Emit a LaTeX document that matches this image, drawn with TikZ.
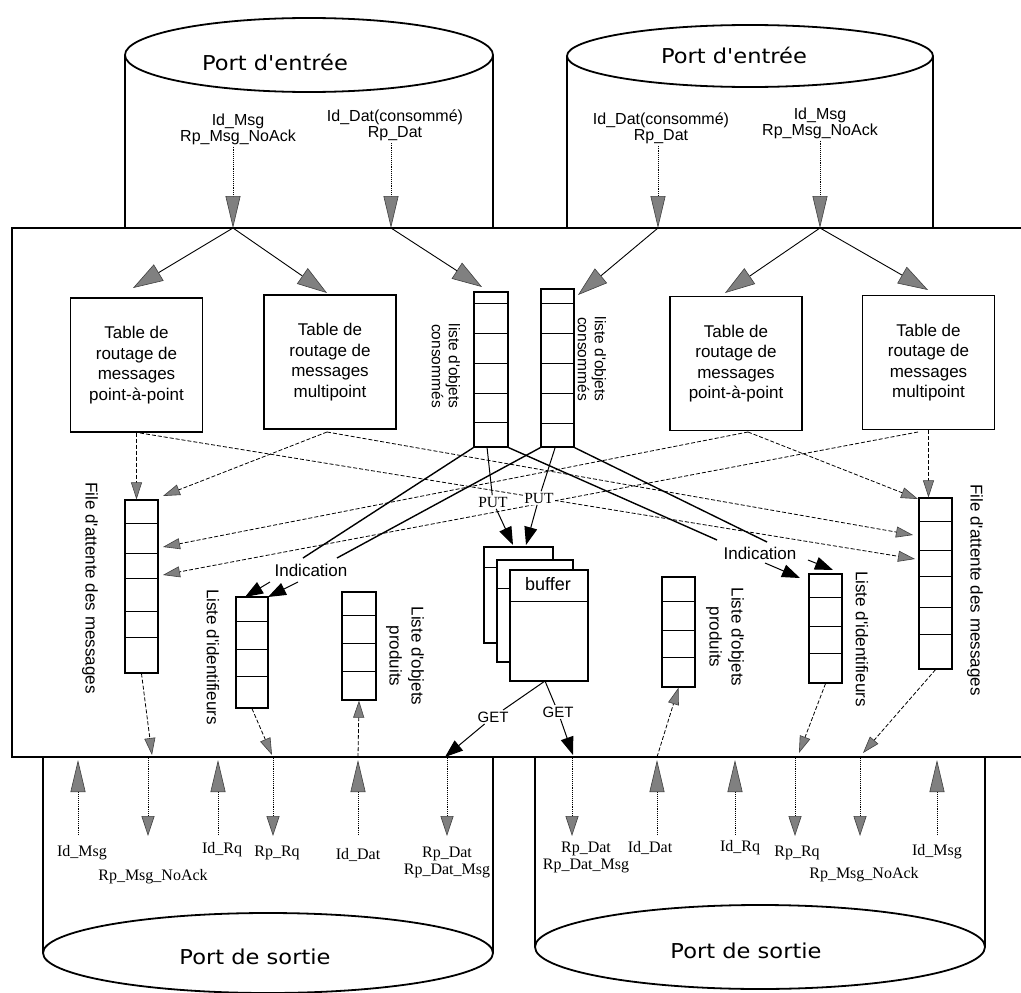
\documentclass[tikz,border=0pt]{standalone}
\usepackage{fontspec}
\setmainfont{Liberation Sans}
\newfontfamily\sansf{Liberation Sans}
\newfontfamily\seriff{Liberation Serif}
\newfontfamily\portf{DejaVu Sans}
\usetikzlibrary{arrows.meta}
\newcommand\usc{\char"5F\relax}

\tikzset{
  hatchbig/.tip={Triangle[length=32pt,width=15pt,color=black!75,fill=black!50,line width=0.6pt]},
  hatchmid/.tip={Triangle[length=30pt,width=19pt,color=black!75,fill=black!50,line width=0.6pt]},
  hatchshort/.tip={Triangle[length=20pt,width=13pt,color=black!75,fill=black!50,line width=0.6pt]},
  hatchsmall/.tip={Triangle[length=17pt,width=11pt,color=black!75,fill=black!50,line width=0.6pt]},
  solidtip/.tip={Triangle[length=18pt,width=13pt,color=black]},
}

\begin{document}
\begin{tikzpicture}[x=1pt,y=-1pt,
  cyl/.style={line width=1.8pt},
  frame/.style={line width=2.6pt},
  port/.style={font=\portf\fontsize{20.5}{24}\selectfont, inner sep=0pt},
  toplbl/.style={font=\sansf\fontsize{16}{16}\selectfont, align=center, inner sep=2pt},
  botlbl/.style={font=\seriff\fontsize{16}{17}\selectfont, align=center, inner sep=1pt},
  routebox/.style={draw, fill=white, line width=1.3pt, minimum width=132pt, minimum height=134pt,
    inner sep=0pt, align=center, font=\sansf\fontsize{17}{20.5}\selectfont},
  queue/.style={draw, fill=white, line width=1.3pt, inner sep=0pt, minimum width=33pt},
  cell/.style={line width=1pt},
  vlbl/.style={rotate=-90, align=center, font=\sansf\fontsize{17}{22}\selectfont, inner sep=0pt},
  qlbl/.style={rotate=-90, align=center, font=\sansf\fontsize{15.5}{17}\selectfont, inner sep=0pt},
  bufbox/.style={draw, fill=white, line width=1.2pt, inner sep=0pt},
  feed/.style={line width=0.9pt, densely dotted, -hatchbig},
  dist/.style={line width=0.9pt, -hatchmid},
  route/.style={line width=0.8pt, dash pattern=on 4pt off 2pt, -hatchsmall},
  upfeed/.style={line width=0.9pt, densely dotted, -hatchbig},
  downfeed/.style={line width=0.9pt, densely dotted, -hatchshort},
  ind/.style={line width=1.4pt},
  op/.style={line width=1pt},
  blk/.style={line width=1pt, -solidtip},
  oplbl/.style={fill=white, inner sep=1.5pt},
]
\useasboundingbox (0,0) rectangle (1021,993);
\clip (0,0) rectangle (1021,993);

% ---------------- input ports ----------------
\draw[cyl] (125,55) -- (125,228) (493,55) -- (493,228);
\draw[cyl,fill=white] (309,55) ellipse [x radius=184, y radius=37];
\node[port] (inL) at (275,62) {\scalebox{1.1}[1]{Port d'entrée}};
\draw[cyl] (567,56) -- (567,228) (933,56) -- (933,228);
\draw[cyl,fill=white] (750,56) ellipse [x radius=183, y radius=31];
\node[port] (inR) at (734,55) {\scalebox{1.1}[1]{Port d'entrée}};

% ---------------- output ports ----------------
\draw[cyl] (43,757) -- (43,953) (493,757) -- (493,953);
\draw[cyl,fill=white] (268,953) ellipse [x radius=225, y radius=40];
\node[port] (outL) at (255,957) {\scalebox{1.1}[1]{Port de sortie}};
\draw[cyl] (535,757) -- (535,947) (985,757) -- (985,947);
\draw[cyl,fill=white] (760,947) ellipse [x radius=225, y radius=42];
\node[port] (outR) at (746,951) {\scalebox{1.1}[1]{Port de sortie}};

% ---------------- module frame ----------------
\draw[frame] (1040,228) -- (12,228) -- (12,757) -- (1040,757);

% ---------------- incoming primitives ----------------
\node[toplbl] (lmL) at (238,129) {Id\usc Msg\\Rp\usc Msg\usc NoAck};
\node[toplbl] (ldL) at (395,125) {Id\usc Dat(consommé)\\Rp\usc Dat};
\node[toplbl] (ldR) at (661,128) {Id\usc Dat(consommé)\\Rp\usc Dat};
\node[toplbl] (lmR) at (820,123) {Id\usc Msg\\Rp\usc Msg\usc NoAck};

\coordinate (sL1) at (233,228);
\coordinate (sL2) at (391,228);
\coordinate (sR1) at (658,228);
\coordinate (sR2) at (820,228);

\draw[feed] (sL1 |- lmL.south) -- (sL1);
\draw[feed] (sL2 |- ldL.south) -- (sL2);
\draw[feed] (sR1 |- ldR.south) -- (sR1);
\draw[feed] (sR2 |- lmR.south) -- (sR2);

% ---------------- routing tables ----------------
\node[routebox] (tp1) at (136.5,365) {Table de\\routage de\\messages\\point-à-point};
\node[routebox] (tm1) at (330,362) {Table de\\routage de\\messages\\multipoint};
\node[routebox] (tp2) at (736,363.5) {Table de\\routage de\\messages\\point-à-point};
\node[routebox] (tm2) at (928.5,362.5) {Table de\\routage de\\messages\\multipoint};

% ---------------- consumed-object lists ----------------
\node[queue, minimum width=34pt, minimum height=155pt] (q1) at (491,369.5) {};
\foreach \y in {303,333,363,393,422} \draw[cell] (474,\y) -- (508,\y);
\node[queue, minimum height=158pt] (q2) at (557.5,368) {};
\foreach \y in {303,333,363,393,423} \draw[cell] (541,\y) -- (574,\y);
\node[qlbl] (q1l) at (446,366) {liste d'objets\\consommés};
\node[qlbl] (q2l) at (592,359) {liste d'objets\\consommés};

% ---------------- message queues ----------------
\node[queue, minimum height=173pt] (fq1) at (141.5,586.5) {};
\foreach \y in {523,553,578,611,637} \draw[cell] (125,\y) -- (158,\y);
\node[queue, minimum height=171pt] (fq2) at (935.5,583.5) {};
\foreach \y in {521,550,576,607,634} \draw[cell] (919,\y) -- (952,\y);
\node[vlbl] (fq1l) at (90,588) {File d'attente des messages};
\node[vlbl] (fq2l) at (975,590) {File d'attente des messages};

% ---------------- identifier lists ----------------
\node[queue, minimum width=32pt, minimum height=111pt] (li1) at (252,652.5) {};
\foreach \y in {621,649,676} \draw[cell] (236,\y) -- (268,\y);
\node[queue, minimum height=109pt] (li2) at (825.5,628.5) {};
\foreach \y in {597,626,653} \draw[cell] (809,\y) -- (842,\y);
\node[vlbl] (li1l) at (213,657) {Liste d'identifieurs};
\node[vlbl] (li2l) at (862,639) {Liste d'identifieurs};

% ---------------- produced-object lists ----------------
\node[queue, minimum width=34pt, minimum height=108pt] (lp1) at (359,646) {};
\foreach \y in {615,643,671} \draw[cell] (342,\y) -- (376,\y);
\node[queue, minimum height=110pt] (lp2) at (678.5,632) {};
\foreach \y in {601,630,657} \draw[cell] (662,\y) -- (695,\y);
\node[vlbl] (lp1l) at (405,656) {Liste d'objets\\produits};
\node[vlbl] (lp2l) at (725,637) {Liste d'objets\\produits};

% ---------------- distribution from the input ports ----------------
\coordinate (tTP1) at (133,288);
\coordinate (tTM1) at (327,293);
\coordinate (tQ1) at (482,287);
\coordinate (tQ2) at (578,295);
\coordinate (tTP2) at (725,293);
\coordinate (tTM2) at (928,290);
\draw[dist] (sL1) -- (tTP1);
\draw[dist] (sL1) -- (tTM1);
\draw[dist] (sL2) -- (tQ1);
\draw[dist] (sR1) -- (tQ2);
\draw[dist] (sR2) -- (tTP2);
\draw[dist] (sR2) -- (tTM2);

% ---------------- routing to the message queues ----------------
\coordinate (oTP1) at (140,433);
\coordinate (oTM1) at (327,432);
\coordinate (oTP2) at (748,432);
\coordinate (oTM2) at (918,432);
\coordinate (f1a) at (163,496);
\coordinate (f1b) at (163,547);
\coordinate (f1c) at (163,575);
\coordinate (f2a) at (918,499);
\coordinate (f2b) at (913,535);
\coordinate (f2c) at (915,559);
\draw[route] (tp1.south) -- (tp1.south |- fq1.north);
\draw[route] (oTP1) -- (f2c);
\draw[route] (oTM1) -- (f1a);
\draw[route] (oTM1) -- (f2b);
\draw[route] (oTP2) -- (f2a);
\draw[route] (oTP2) -- (f1b);
\draw[route] (oTM2) -- (f1c);
\draw[route] (tm2.south) -- (tm2.south |- fq2.north);

% ---------------- indications ----------------
\coordinate (iL1) at (303,558);
\coordinate (iL2) at (337,558);
\coordinate (iR1) at (717,540);
\coordinate (iR2) at (767,542);
\draw[ind] (q1.south west) -- (iL1);
\draw[ind] (q2.south west) -- (iL2);
\draw[ind] (q1.south east) -- (iR1);
\draw[ind] (q2.south east) -- (iR2);
\node[oplbl, font=\sansf\fontsize{17}{20}\selectfont] (indL) at (311,570) {Indication};
\node[oplbl, font=\sansf\fontsize{17}{20}\selectfont] (indR) at (760,553) {Indication};
\coordinate (aL1) at (270,582);
\coordinate (aL2) at (298,582);
\coordinate (aR1) at (765,563);
\coordinate (aR2) at (808,560);
\coordinate (tL1) at (245,597);
\coordinate (tL2) at (268,597);
\coordinate (tR1) at (800,578);
\coordinate (tR2) at (833,570);
\draw[blk] (aL1) -- (tL1);
\draw[blk] (aL2) -- (tL2);
\draw[blk] (aR1) -- (tR1);
\draw[blk] (aR2) -- (tR2);

% ---------------- buffer ----------------
\node[bufbox, minimum width=69pt, minimum height=96pt] (bufA) at (518.5,595) {};
\draw[cell] (484,567) -- (553,567);
\node[bufbox, minimum width=76pt, minimum height=102pt] (bufB) at (535,611) {};
\draw[cell] (497,588) -- (573,588);
\node[bufbox, minimum width=78pt, minimum height=111pt] (bufC) at (549,625.5) {};
\draw[cell] (510,601) -- (588,601);
\node[font=\sansf\fontsize{18}{20}\selectfont, inner sep=0pt] (bufT) at (548,584) {buffer};

% PUT into the buffer
\node[oplbl, font=\seriff\fontsize{15.5}{17}\selectfont] (put1) at (493,502) {PUT};
\node[oplbl, font=\seriff\fontsize{15.5}{17}\selectfont] (put2) at (539,498) {PUT};
\coordinate (p1s) at (487,447);
\coordinate (p2s) at (555,448);
\coordinate (p1t) at (513,545);
\coordinate (p2t) at (526,545);
\draw[op] (p1s) -- (put1);
\draw[blk] (put1) -- (p1t);
\draw[op] (p2s) -- (put2);
\draw[blk] (put2) -- (p2t);

% GET from the buffer
\node[oplbl, font=\sansf\fontsize{15}{17}\selectfont] (get1) at (493,717) {GET};
\node[oplbl, font=\sansf\fontsize{15}{17}\selectfont] (get2) at (558,712) {GET};
\coordinate (g0) at (545,681);
\coordinate (g1t) at (445,757);
\coordinate (g2t) at (573,755);
\draw[op] (g0) -- (get1);
\draw[blk] (get1) -- (g1t);
\draw[op] (g0) -- (get2);
\draw[blk] (get2) -- (g2t);

% ---------------- towards / from the frame bottom ----------------
\coordinate (e1) at (152,755);
\coordinate (e2) at (272,755);
\coordinate (e3) at (358,757);
\coordinate (e4) at (863,753);
\coordinate (e5) at (799,753);
\coordinate (e6) at (657,757);
\draw[route] (fq1.south) -- (e1);
\draw[route] (li1.south) -- (e2);
\draw[route] (e3) -- (lp1.south);
\draw[route] (fq2.south) -- (e4);
\draw[route] (li2.south) -- (e5);
\draw[route] (e6) -- (lp2.south);

% ---------------- outgoing / incoming primitives at the bottom ----------------
\foreach \n/\x in {1/78,2/218,3/358,4/657,5/735,6/937} {
  \coordinate (ui\n) at (\x,835);
  \coordinate (uo\n) at (\x,760);
  \draw[upfeed] (ui\n) -- (uo\n);
}
\foreach \n/\x in {1/148,2/273,3/447,4/572,5/795,6/860} {
  \coordinate (di\n) at (\x,758);
  \coordinate (do\n) at (\x,836);
  \draw[downfeed] (di\n) -- (do\n);
}

\node[botlbl] (bl1) at (82,853) {Id\usc Msg};
\node[botlbl] (bl2) at (153,877) {Rp\usc Msg\usc NoAck};
\node[botlbl] (bl3) at (222,850) {Id\usc Rq};
\node[botlbl] (bl4) at (277,853) {Rp\usc Rq};
\node[botlbl] (bl5) at (358,855) {Id\usc Dat};
\node[botlbl] (bl6) at (447,862) {Rp\usc Dat\\Rp\usc Dat\usc Msg};
\node[botlbl] (br1) at (586,857) {Rp\usc Dat\\Rp\usc Dat\usc Msg};
\node[botlbl] (br2) at (650,848) {Id\usc Dat};
\node[botlbl] (br3) at (740,848) {Id\usc Rq};
\node[botlbl] (br4) at (797,853) {Rp\usc Rq};
\node[botlbl] (br5) at (864,875) {Rp\usc Msg\usc NoAck};
\node[botlbl] (br6) at (937,852) {Id\usc Msg};
\end{tikzpicture}
\end{document}
